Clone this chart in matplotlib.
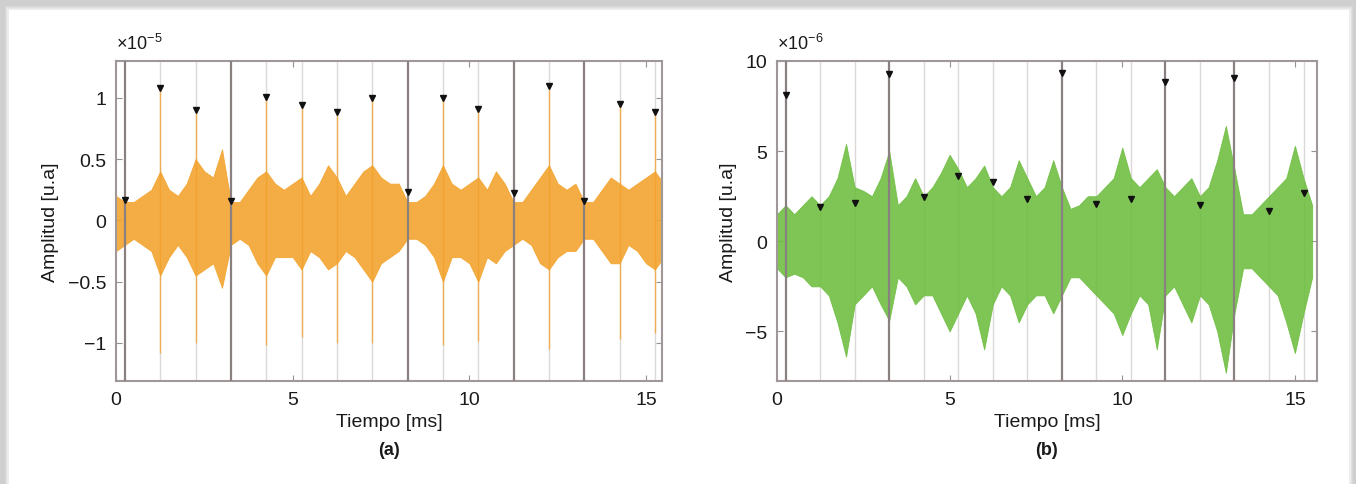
import numpy as np
import matplotlib.pyplot as plt
from matplotlib.patches import Rectangle
from matplotlib.ticker import FuncFormatter

plt.rcParams['font.family'] = ['Liberation Sans Narrow', 'Liberation Sans', 'DejaVu Sans']
plt.rcParams['mathtext.fontset'] = 'custom'
plt.rcParams['mathtext.rm'] = 'Liberation Sans'

# time grid of the envelope readings [ms]
t_env = np.arange(0, 15.51, 0.25)

# panel (a): signal envelope, units of 1e-5
env_a_top = [0.20, 0.15, 0.15, 0.20, 0.25, 0.40, 0.25, 0.20, 0.30, 0.50, 0.40, 0.35, 0.58,
             0.15, 0.15, 0.25, 0.35, 0.40, 0.30, 0.25, 0.30, 0.35, 0.20, 0.30, 0.45, 0.35,
             0.20, 0.30, 0.40, 0.45, 0.35, 0.30, 0.30, 0.15, 0.15, 0.20, 0.30, 0.45, 0.30,
             0.25, 0.30, 0.35, 0.25, 0.40, 0.30, 0.15, 0.15, 0.25, 0.35, 0.45, 0.30, 0.25,
             0.30, 0.15, 0.15, 0.25, 0.35, 0.30, 0.25, 0.30, 0.35, 0.40, 0.30]
env_a_bot = [-0.25, -0.20, -0.15, -0.20, -0.25, -0.45, -0.30, -0.20, -0.30, -0.45, -0.40,
             -0.35, -0.55, -0.20, -0.15, -0.20, -0.35, -0.45, -0.30, -0.30, -0.30, -0.40,
             -0.25, -0.30, -0.40, -0.35, -0.25, -0.30, -0.40, -0.50, -0.35, -0.30, -0.25,
             -0.15, -0.15, -0.20, -0.30, -0.50, -0.30, -0.30, -0.35, -0.50, -0.30, -0.35,
             -0.25, -0.20, -0.15, -0.20, -0.35, -0.40, -0.30, -0.25, -0.25, -0.15, -0.15,
             -0.25, -0.35, -0.35, -0.20, -0.25, -0.35, -0.40, -0.30]

# pulse instants [ms] and detected peaks
pulse_t = [0.25, 1.25, 2.25, 3.25, 4.25, 5.25, 6.25, 7.25, 8.25, 9.25, 10.25, 11.25,
           12.25, 13.25, 14.25, 15.25]
dark_t = [0.25, 3.25, 8.25, 11.25, 13.25]
peaks_a = [0.17, 1.08, 0.90, 0.16, 1.01, 0.94, 0.88, 1.00, 0.23, 1.00, 0.91, 0.22,
           1.10, 0.16, 0.95, 0.88]
spike_low_a = [-0.20, -1.08, -1.00, -0.20, -1.02, -0.95, -1.00, -1.00, -0.20, -1.02,
               -0.98, -0.20, -1.05, -0.20, -0.97, -0.92]

# panel (b): signal envelope, units of 1e-6
env_b_top = [1.5, 2.0, 1.5, 2.0, 2.5, 2.0, 2.5, 3.5, 5.4, 3.0, 2.8, 2.5, 3.5, 5.0, 2.0,
             2.5, 3.5, 2.5, 3.0, 3.8, 4.8, 4.0, 3.0, 3.5, 4.2, 3.0, 2.5, 3.0, 4.5, 3.5,
             2.5, 3.0, 4.5, 3.0, 1.8, 2.0, 2.5, 2.5, 3.0, 3.5, 5.2, 3.5, 3.0, 3.5, 4.0,
             3.0, 2.5, 3.0, 3.5, 2.5, 3.0, 4.5, 6.4, 4.0, 1.5, 1.5, 2.0, 2.5, 3.0, 3.5,
             5.3, 3.5, 2.0]
env_b_bot = [-1.5, -2.0, -1.8, -2.0, -2.5, -2.5, -3.0, -4.5, -6.4, -3.5, -3.0, -2.5,
             -3.5, -4.4, -2.0, -2.5, -3.5, -3.0, -3.0, -4.0, -5.0, -4.0, -3.0, -4.0,
             -6.0, -3.5, -2.5, -3.0, -4.5, -3.5, -3.0, -3.0, -4.0, -3.0, -2.0, -2.0,
             -2.5, -3.0, -3.5, -4.0, -5.2, -4.0, -3.0, -3.5, -6.0, -3.0, -2.5, -3.5,
             -4.5, -3.0, -3.5, -5.0, -7.3, -4.0, -1.5, -1.5, -2.0, -2.5, -3.0, -4.5,
             -6.2, -4.0, -2.0]
peaks_b = [8.14, 1.90, 2.10, 9.27, 2.44, 3.63, 3.31, 2.36, 9.31, 2.09, 2.36, 8.83,
           2.03, 9.03, 1.68, 2.68]


def fmt(v, pos):
    return '{:g}'.format(round(v, 2)).replace('-', '\u2212')


fig = plt.figure(figsize=(13.56, 4.85), dpi=100, facecolor='#cfcfcf')
W, H = 1356.0, 485.0
# white page with soft shadow
for i, a in enumerate([0.25, 0.35, 0.5, 0.7]):
    fig.patches.append(Rectangle(((5 + i * 0.8) / W, 0), (1348 - i * 1.6) / W,
                                 (478 - i * 0.9) / H, transform=fig.transFigure,
                                 facecolor='#f0f0f0', alpha=a, edgecolor='none', zorder=-5))
fig.patches.append(Rectangle((9 / W, 0), 1340 / W, 474 / H, transform=fig.transFigure,
                             facecolor='white', edgecolor='none', zorder=-4))

panels = [
    dict(rect=[116 / W, 103 / H, 546 / W, 320 / H], top=env_a_top, bot=env_a_bot,
         peaks=peaks_a, color='#f3a22a', xlim=(0, 15.45), ylim=(-1.31, 1.30),
         yticks=[-1, -0.5, 0, 0.5, 1], exp='-5', label='(a)', spikes=spike_low_a),
    dict(rect=[777 / W, 103 / H, 540 / W, 320 / H], top=env_b_top, bot=env_b_bot,
         peaks=peaks_b, color='#6cbd3e', xlim=(0, 15.64), ylim=(-7.75, 10.0),
         yticks=[-5, 0, 5, 10], exp='-6', label='(b)', spikes=None),
]

for p in panels:
    ax = fig.add_axes(p['rect'])
    ax.set_facecolor('white')
    for tp in pulse_t:
        if tp in dark_t:
            ax.axvline(tp, color='#8a8080', lw=1.6, zorder=4)
        else:
            ax.axvline(tp, color='#dcd8d8', lw=1.0, zorder=1)
    ax.fill_between(t_env, p['bot'], p['top'], color=p['color'], alpha=0.88,
                    lw=0.6, edgecolor=p['color'], zorder=2)
    if p['spikes'] is not None:
        for tp, lo, hi in zip(pulse_t, p['spikes'], p['peaks']):
            if tp not in dark_t:
                ax.vlines(tp, lo, hi, color=p['color'], lw=1.0, alpha=0.75, zorder=3)
    ax.plot(pulse_t, p['peaks'], linestyle='none', marker='v', ms=5,
            color='#111111', zorder=5)

    ax.set_xlim(*p['xlim'])
    ax.set_ylim(*p['ylim'])
    ax.set_xticks([0, 5, 10, 15])
    ax.set_yticks(p['yticks'])
    ax.yaxis.set_major_formatter(FuncFormatter(fmt))
    ax.tick_params(direction='in', length=4, top=True, right=True, color='#9b9090',
                   labelsize=14, labelcolor='#1a1a1a', pad=7)
    for s in ax.spines.values():
        s.set_color('#a09898')
        s.set_linewidth(1.5)
    ax.set_xlabel('Tiempo [ms]', fontsize=14, color='#1a1a1a', labelpad=4)
    ax.set_ylabel('Amplitud [u.a]', fontsize=14, color='#1a1a1a', labelpad=6)
    ax.text(0.0, 1.025, r'$\times10^{' + p['exp'].replace('-', '\u2212') + '}$',
            transform=ax.transAxes, ha='left', va='bottom', fontsize=13, color='#1a1a1a')
    cx = p['rect'][0] + p['rect'][2] / 2
    fig.text(cx, 1 - 451 / H, p['label'], ha='center', va='center', fontsize=13,
             fontweight='bold', color='#1a1a1a')

fig.savefig('out.png', dpi=100, facecolor=fig.get_facecolor())
